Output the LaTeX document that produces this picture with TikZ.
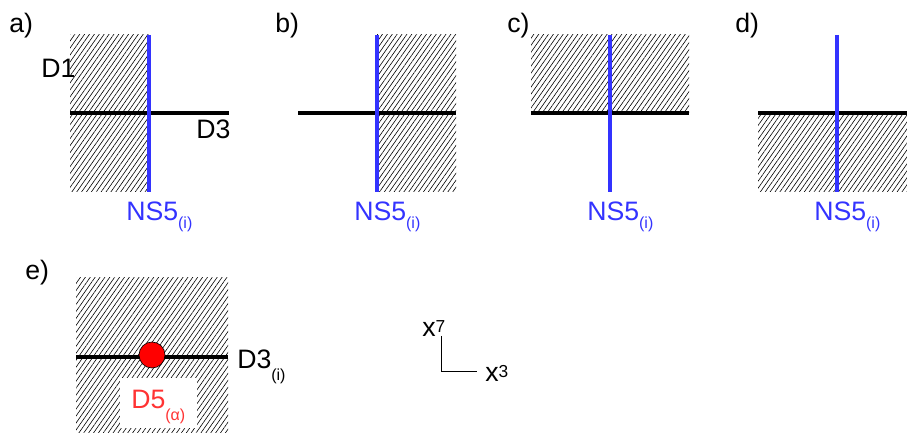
\documentclass[tikz,border=0pt]{standalone}
\usepackage{fontspec}
\setmainfont{Liberation Sans}
\usetikzlibrary{patterns.meta}
\definecolor{nsblue}{RGB}{51,51,255}
\definecolor{dfive}{RGB}{255,51,51}
\newcommand\lowtag[2][6pt]{\raisebox{-#1}{\fontsize{12}{14}\selectfont #2}}
\newcommand\hightag[1]{\raisebox{3pt}{\fontsize{13}{15}\selectfont #1}}
\tikzset{
  hatch/.style={pattern={Lines[angle=55,distance=3pt,line width=0.45pt]}},
  dbrane/.style={line width=2.7pt},
  nsbrane/.style={line width=3pt,draw=nsblue},
  lbl/.style={anchor=base west,inner sep=0pt,font=\fontsize{20}{23}\selectfont},
}
\begin{document}
\begin{tikzpicture}[x=0.75pt,y=-0.75pt]
  \useasboundingbox (0,0) rectangle (907,434);
  % panels a)-d): hatched region, D3 (black) and NS5 (blue) crossing at (x0+79,113)
  \foreach \xo/\len/\lx/\ua/\ub/\uc/\ud/\tg in {70/159/9/0/35/79/192/a, 298/158/275/79/35/158/192/b,
                                                 531/158/507/0/35/158/113/c, 758/149/735/0/113/149/192/d}{
    \fill[hatch] (\xo+\ua,\ub) rectangle (\xo+\uc,\ud);
    \draw[dbrane] (\xo,113) -- (\xo+\len,113);
    \draw[nsbrane] (\xo+79,35) -- (\xo+79,192);
    \node[lbl] (tag-\tg) at (\lx,33) {\tg)};
    \node[lbl,text=nsblue] (ns-\tg) at (\xo+56,220.7) {NS5\lowtag{(i)}};
  }
  \node[lbl] (d1-a) at (41,78) {D1};
  \node[lbl] (d3-a) at (196,138.3) {D3};
  % panel e): D3 with a D5 point on it
  \fill[hatch] (76,278) rectangle (228,433);
  \fill[white] (120,378) rectangle (197,428);
  \draw[dbrane] (76,357) -- (228,357);
  \node[circle,fill=red,draw=black,line width=0.5pt,minimum size=19.5pt,inner sep=0pt] (d5dot) at (152,355) {};
  \node[lbl] (tag-e) at (25,280) {e)};
  \node[lbl] (d3-e) at (237,368.3) {D3\lowtag[9pt]{(i)}};
  \node[lbl,text=dfive] (d5-e) at (131,408.3) {D5\lowtag[9pt]{(α)}};
  % axes
  \coordinate (corner) at (441,372);
  \coordinate (up) at (441,336);
  \coordinate (right) at (477,372);
  \draw[line width=0.75pt] (up) -- (corner) -- (right);
  \node[lbl] (x7) at (422,337) {x\hightag{7}};
  \node[lbl] (x3) at (485,382) {x\hightag{3}};
\end{tikzpicture}
\end{document}
